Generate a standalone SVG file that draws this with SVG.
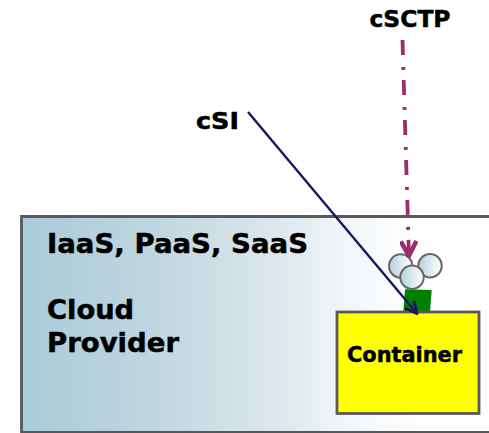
<svg xmlns="http://www.w3.org/2000/svg" width="489" height="433" viewBox="0 0 489 433">
<style>
text{font-family:"DejaVu Sans",Verdana,sans-serif;font-weight:bold;fill:#000;stroke:#000;stroke-width:0.500px}
.big{font-size:27.300px}
.lbl{font-size:23.300px}
.ball{fill:url(#ballGrad);stroke:#666;stroke-width:2px}
</style>
<defs>
<linearGradient id="cloudGrad" x1="0" y1="0" x2="1" y2="0">
<stop offset="0" stop-color="#a9cbd9"/>
<stop offset="0.28" stop-color="#bfd6df"/>
<stop offset="0.55" stop-color="#dde8ec"/>
<stop offset="0.7" stop-color="#f2f6f9"/>
<stop offset="0.85" stop-color="#ffffff"/>
<stop offset="1" stop-color="#ffffff"/>
</linearGradient>
<linearGradient id="ballGrad" x1="0" y1="0" x2="1" y2="0">
<stop offset="0" stop-color="#b4d0db"/>
<stop offset="0.6" stop-color="#e4edf1"/>
<stop offset="1" stop-color="#ffffff"/>
</linearGradient>
<marker id="arrowBlue" markerUnits="userSpaceOnUse" markerWidth="14" markerHeight="14" refX="11" refY="6" orient="auto" viewBox="0 0 12 12">
<path d="M1 1L11 6L1 11" fill="none" stroke="#1b1464" stroke-width="2.400"/>
</marker>
<marker id="arrowPink" markerUnits="userSpaceOnUse" markerWidth="18" markerHeight="18" refX="15" refY="8" orient="auto" viewBox="0 0 16 16">
<path d="M1 1L14 8L1 15" fill="none" stroke="#9b2d6b" stroke-width="4"/>
</marker>
</defs>
<g id="cloud-provider">
<rect x="21.500" y="216.500" width="468" height="215" fill="url(#cloudGrad)"/>
<path d="M489 216.500H21.500V432.500H489" fill="none" stroke="#595959" stroke-width="2.800"/>
<text class="big" x="47" y="253" textLength="261" lengthAdjust="spacingAndGlyphs">IaaS, PaaS, SaaS</text>
<text class="big" x="47" y="318.500">Cloud</text>
<text class="big" x="47" y="351.500" textLength="132" lengthAdjust="spacingAndGlyphs">Provider</text>
</g>
<g id="green-block">
<polygon points="405,289.300 431.700,290 430,312 403.300,312" fill="#008000"/>
</g>
<g id="container">
<rect x="337" y="312" width="142" height="101.500" fill="#ffff00" stroke="#595959" stroke-width="2.800"/>
<text x="347" y="362" font-size="20.900" textLength="115" lengthAdjust="spacingAndGlyphs">Container</text>
</g>
<g id="balls">
<circle class="ball" cx="400.700" cy="266" r="11.700"/>
<circle class="ball" cx="430" cy="265.700" r="11.700"/>
<circle class="ball" cx="412" cy="277.300" r="11.700"/>
</g>
<g id="connectors">
<line x1="402.500" y1="40" x2="409" y2="257" stroke="#9b2d6b" stroke-width="3.800" stroke-dasharray="15 12 3 10" marker-end="url(#arrowPink)"/>
<line x1="248" y1="112" x2="417" y2="313.500" stroke="#1b1464" stroke-width="2.400" marker-end="url(#arrowBlue)"/>
</g>
<g id="labels">
<text class="lbl" x="369.500" y="26.500" textLength="81" lengthAdjust="spacingAndGlyphs">cSCTP</text>
<text class="lbl" x="196" y="128.500" textLength="43" lengthAdjust="spacingAndGlyphs">cSI</text>
</g>
</svg>
